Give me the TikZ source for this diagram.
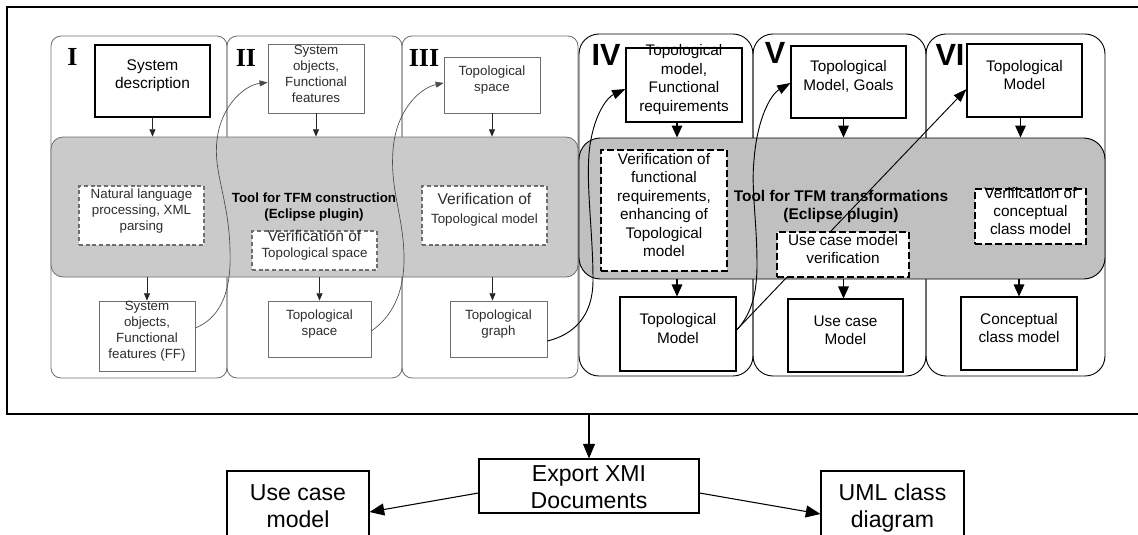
\documentclass[tikz,border=0pt]{standalone}
\usepackage{fontspec}
\setmainfont{Liberation Sans}
\newfontfamily\romanfont{Liberation Serif}
\usetikzlibrary{arrows.meta,fit,calc}
\definecolor{bandL}{RGB}{202,202,202}
\definecolor{bandR}{RGB}{192,192,192}
\definecolor{greyline}{RGB}{110,110,110}
\definecolor{greytext}{RGB}{45,45,45}
\newcommand{\lowered}[2]{\raisebox{-#1}[0pt][0pt]{\begin{tabular}{@{}c@{}}#2\end{tabular}}}
\begin{document}
\begin{tikzpicture}[x=0.75pt,y=-0.75pt,
  panelA/.style={draw=greyline, line width=0.6pt, rounded corners=7.5pt, inner sep=0pt},
  panelB/.style={draw=black, line width=0.7pt, rounded corners=15pt, inner sep=0pt},
  bandA/.style={draw=greyline, fill=bandL, line width=0.6pt, rounded corners=9pt, inner sep=0pt},
  bandB/.style={draw=black, fill=bandR, line width=0.7pt, rounded corners=16pt, inner sep=0pt},
  boxA/.style={draw=greyline, fill=white, line width=0.6pt, inner sep=0pt, align=center, text=greytext, font=\fontsize{10}{12}\selectfont},
  boxB/.style={draw=black, fill=white, line width=0.8pt, inner sep=0pt, align=center, font=\fontsize{11.5}{13.8}\selectfont},
  dashA/.style={boxA, draw=greyline, dash pattern=on 3pt off 2pt, line width=0.8pt},
  dashB/.style={boxB, dash pattern=on 5pt off 2.5pt, line width=1pt},
  bigbox/.style={draw=black, fill=white, line width=0.8pt, inner sep=0pt, font=\fontsize{17.3}{20.5}\selectfont},
  toollabel/.style={align=center, font=\bfseries\fontsize{10}{12.5}\selectfont, inner sep=0pt},
  numA/.style={anchor=base, inner sep=0pt, font=\romanfont\bfseries\fontsize{19.5}{20}\selectfont},
  numB/.style={anchor=base, inner sep=0pt, font=\bfseries\fontsize{23}{24}\selectfont},
  arrA/.style={-{Triangle[length=5.5pt,width=4.5pt]}, line width=0.6pt, draw=black!85},
  arrB/.style={-{Triangle[length=9pt,width=8pt]}, line width=0.8pt, draw=black},
  arrC/.style={-{Triangle[length=11pt,width=9pt]}, line width=0.8pt, draw=black},
  curveA/.style={-{Triangle[length=6pt,width=4.5pt]}, line width=0.5pt, draw=black!70},
  curveB/.style={-{Triangle[length=10pt,width=7pt]}, line width=0.7pt, draw=black},
]
\path[use as bounding box] (0,0) rectangle (1138,535);
\clip (0,0) rectangle (1138,535);

% outer frame
\draw[line width=1pt] (1145,7) -- (7,7) -- (7,414) -- (1145,414);
\coordinate (fb) at (589,414);

% panels
\node[panelA, fit={(51,36) (227,378)}] (p1) {};
\node[panelA, fit={(227,36) (402,378)}] (p2) {};
\node[panelA, fit={(402,36) (578,378)}] (p3) {};
\node[panelB, fit={(579,34) (753,376)}] (p4) {};
\node[panelB, fit={(753,34) (926,376)}] (p5) {};
\node[panelB, fit={(926,34) (1105,376)}] (p6) {};

% bands
\node[bandA, fit={(51,137) (578,277)}] (bandL) {};
\node[bandB, fit={(579,138) (1105,279)}] (bandR) {};

% numerals
\node[numA] (n1) at (72.5,65) {I};
\node[numA] (n2) at (246,66) {II};
\node[numA] (n3) at (424,66) {III};
\node[numB] (n4) at (606,65) {IV};
\node[numB] (n5) at (775,64) {V};
\node[numB] (n6) at (950,65) {VI};

% tool labels
\node[toollabel] (tool1) at (314,207) {Tool for TFM construction\\(Eclipse plugin)};
\node[toollabel, font=\bfseries\fontsize{11.6}{13.5}\selectfont] (tool2) at (841,207) {Tool for TFM transformations\\(Eclipse plugin)};

% boxes
\node[boxA, draw=black, line width=0.8pt, text=black, font=\fontsize{11.6}{13}\selectfont, fit={(95,45) (210,117)}] (sd) {System\\description};
\node[boxA, fit={(99,301) (195,371)}] (ff) {System\\objects,\\Functional\\features (FF)};
\node[boxA, fit={(268,44) (364,113)}] (so) {System\\objects,\\Functional\\features};
\node[boxA, fit={(268,301) (371,357)}] (ts) {Topological\\space};
\node[boxA, fit={(444,57) (540,113)}] (tsp) {Topological\\space};
\node[boxA, fit={(450,301) (547,357)}] (tg) {Topological\\graph};

\node[boxB, fit={(626,48) (742,122)}] (tmfr) {Topological\\model,\\Functional\\requirements};
\node[boxB, fit={(620,297) (736,371)}] (tm4) {Topological\\Model};
\node[boxB, fit={(791,46) (906,118)}] (tmg) {Topological\\Model, Goals};
\node[boxB, fit={(788,299) (903,372)}] (ucm) {Use case\\Model};
\node[boxB, fit={(967,44) (1082,117)}] (tm6) {Topological\\Model};
\node[boxB, fit={(961,297) (1077,370)}] (ccm) {Conceptual\\class model};

% arrow x positions
\coordinate (x3b) at ($(tg.north)+(-6,0)$);
\coordinate (x4t) at ($(tmfr.south)+(-7,0)$);
\coordinate (x4b) at ($(tm4.north)+(-1,0)$);
\coordinate (x5t) at ($(tmg.south)+(-5,0)$);
\coordinate (x5b) at ($(ucm.north)+(-2,0)$);
\coordinate (x6t) at ($(tm6.south)+(-4,0)$);

% vertical arrows I-III
\draw[arrA] (sd.south) -- (sd.south |- bandL.north);
\draw[arrA] (ff.north |- bandL.south) -- (ff.north);
\draw[arrA] (so.south) -- (so.south |- bandL.north);
\draw[arrA] (ts.north |- bandL.south) -- (ts.north);
\draw[arrA] (tsp.south) -- (tsp.south |- bandL.north);
\draw[arrA] (x3b |- bandL.south) -- (x3b);

% vertical arrows IV-VI
\draw[arrB] (x4t) -- (x4t |- bandR.north);
\draw[arrB] (x4b |- bandR.south) -- (x4b);
\draw[arrB] (x5t) -- (x5t |- bandR.north);
\draw[arrB] (x5b |- bandR.south) -- (x5b);
\draw[arrB] (x6t) -- (x6t |- bandR.north);
\draw[arrB] (ccm.north |- bandR.south) -- (ccm.north);

% curved connectors
\draw[curveA] ($(ff.east)+(0,-8)$) .. controls (215,320) and (232,300) .. (230,250)
  .. controls (229,200) and (213,172) .. (217,140)
  .. controls (221,105) and (245,85) .. ($(so.west)+(0,4)$);
\draw[curveA] ($(ts.east)+(0,2)$) .. controls (390,318) and (405,295) .. (404,255)
  .. controls (403,215) and (390,190) .. (393,150)
  .. controls (396,110) and (420,88) .. ($(tsp.west)+(0,-2)$);
\draw[curveB] ($(tg.east)+(0,12)$) .. controls (572,335) and (593,318) .. (593,280)
  .. controls (593,230) and (585,180) .. (590,145)
  .. controls (595,112) and (608,97) .. ($(tmfr.west)+(0,4)$);
\draw[curveB] ($(tm4.east)+(0,-4)$) .. controls (748,318) and (757,300) .. (757,265)
  .. controls (757,220) and (751,190) .. (754,160)
  .. controls (757,120) and (770,95) .. ($(tmg.west)+(0,1)$);
\draw[curveB] ($(tm4.east)+(0,-4)$) -- ($(tm6.west)+(0,8.5)$);

% dashed boxes
\node[dashA, fit={(79,186) (204,245)}] (nlp) {Natural language\\processing, XML\\parsing};
\node[dashA, fit={(252,231) (377,270)}] (vts) {{\fontsize{11.7}{13.5}\selectfont Verification of}\\Topological space};
\node[dashA, fit={(422,186) (547,245)}] (vtm) {{\fontsize{11.7}{13.5}\selectfont Verification of}\\[2pt]Topological model};
\node[dashB, fit={(601,150) (727,271)}] (vfr) {Verification of\\functional\\requirements,\\enhancing of\\Topological\\model};
\node[dashB, fit={(777,232) (909,277)}] (ucv) {Use case model\\verification};
\node[dashB, fit={(975,189) (1086,244)}] (vcc) {Verification of\\conceptual\\class model};

% bottom part
\node[bigbox, fit={(479,459) (699,513)}] (exp) {\lowered{7pt}{Export XMI\\Documents}};
\node[bigbox, fit={(227,471) (369,541)}] (uc) {\lowered{6pt}{Use case\\model}};
\node[bigbox, fit={(821,471) (964,541)}] (uml) {\lowered{6pt}{UML class\\diagram}};
\draw[arrC] (fb) -- (fb |- exp.north);
\draw[arrC] ($(exp.west)+(0,7)$) -- ($(uc.east)+(0,6)$);
\draw[arrC] ($(exp.east)+(0,7)$) -- ($(uml.east -| uml.west)+(0,8)$);
\end{tikzpicture}
\end{document}
